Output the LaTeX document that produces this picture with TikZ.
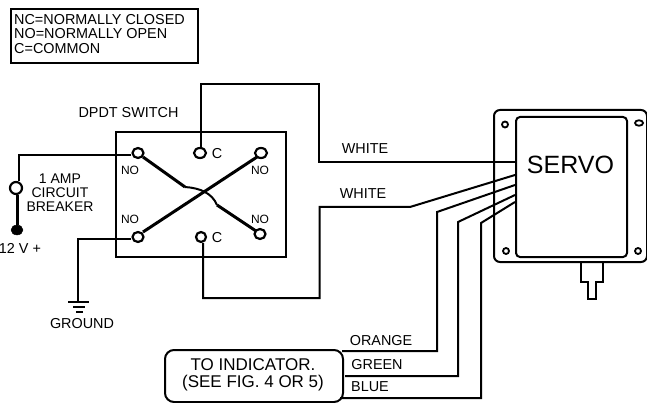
\documentclass[tikz,border=0pt]{standalone}
\usepackage{fontspec}
\setmainfont{Liberation Sans}
\usetikzlibrary{shapes.geometric,calc}
\tikzset{
 wire/.style={line width=2pt,line join=miter},
 heavy/.style={line width=3pt},
 box/.style={draw,line width=2pt,rectangle,inner sep=0pt,anchor=north west},
 rbox/.style={box,rounded corners=4pt},
 term/.style={draw,ellipse,line width=2.2pt,fill=white,inner sep=0pt,minimum width=11pt,minimum height=10pt},
 hole/.style={draw,circle,line width=1.8pt,fill=white,inner sep=0pt,minimum size=6pt},
 lbl/.style={font=\fontsize{14.4}{14.6}\selectfont,inner sep=0pt,align=center},
 small/.style={font=\fontsize{12}{13}\selectfont,inner sep=0pt},
}
\begin{document}
\begin{tikzpicture}[x=1pt,y=-1pt]
\useasboundingbox (0,0) rectangle (647,403);
% legend
\node[box,minimum width=187pt,minimum height=54pt] (legend) at (9.5,8.5) {};
\node[lbl,align=left,anchor=west] (legendtext) at (14,34) {NC=NORMALLY CLOSED\\NO=NORMALLY OPEN\\C=COMMON};
% switch
\node[box,minimum width=170pt,minimum height=125pt] (sw) at (115,131) {};
\node[lbl] (swlabel) at (128.5,113) {DPDT SWITCH};
% servo
\node[rbox,rounded corners=6pt,minimum width=153pt,minimum height=152pt] (outer) at (493,109) {};
\node[rbox,minimum width=111pt,minimum height=140pt] (inner) at (515,116) {};
\node[lbl,font=\fontsize{25}{28}\selectfont] (servo) at (570.5,165) {SERVO};
\node[hole] (h1) at (505,124.5) {};
\node[hole,ellipse,minimum width=8pt,minimum height=5.5pt] (h2) at (639,123) {};
\node[hole] (h3) at (506,251) {};
\node[hole] (h4) at (638,251) {};
\draw[wire] (581,261) |- (588,282) |- (596,299) |- (603,282) -- (603,261);
% indicator
\node[box,rounded corners=9pt,minimum width=178pt,minimum height=52pt] (ind) at (164,349) {};
\node[lbl,font=\fontsize{17}{17.5}\selectfont] (indtext) at (253,375) {TO INDICATOR.\\(SEE FIG. 4 OR 5)};
% terminals
\node[term] (tl) at (138,153) {};
\node[term,minimum width=12pt] (tc) at (200,153) {};
\node[term,minimum width=12pt] (tr) at (261,153) {};
\node[term] (bl) at (138,237) {};
\node[term,minimum width=10pt] (bc) at (201,237) {};
\node[term] (br) at (260,234) {};
% breaker
\node[term,minimum width=12pt,minimum height=12pt] (cb) at (16,188) {};
\node[draw,ellipse,fill=black,inner sep=0pt,minimum width=12pt,minimum height=10pt] (dot) at (17,230) {};
\coordinate (wl) at (19,155);
\coordinate (wg) at (78,239);
\coordinate (gnd) at (78,302);
% connectors
\draw[wire] (tl.west |- wl) -- (wl) -- (wl |- cb.north);
\draw[heavy] (cb.south -| dot) -- (dot);
\draw[wire] (bl.west |- wg) -- (wg) -- (gnd);
\draw[line width=2.2pt] (68,302) -- (89,302) (73,307) -- (85,307) (76,312) -- (83,312);
\coordinate (topA) at (201,84);
\coordinate (topB) at (319,84);
\coordinate (topC) at (319,162);
\coordinate (topD) at (515,162);
\coordinate (botA) at (203,298);
\coordinate (botB) at (319.5,298);
\coordinate (botC) at (319.5,207);
\coordinate (botD) at (410,207);
\coordinate (botE) at (515,175);
\coordinate (o1) at (437,212);
\coordinate (o2) at (515,185);
\coordinate (g1) at (458,222);
\coordinate (g2) at (515,195);
\coordinate (b1) at (481,223);
\coordinate (b2) at (515,202);
\coordinate (oEnd) at (342,351);
\coordinate (gEnd) at (345,376);
\coordinate (bEnd) at (340,398);
\draw[wire] (topD) -- (topC) -- (topB) -- (topA) -- (tc.north -| topA);
\draw[wire] (botA |- bc.south) -- (botA) -- (botB) -- (botC) -- (botD) -- (botE);
\draw[wire] (oEnd) -| (o1) -- (o2);
\draw[wire] (gEnd) -| (g1) -- (g2);
\draw[wire] (bEnd) -| (b1) -- (b2);
% switch arms
\draw[heavy] ($(bl)+(5,-5)$) -- ($(tr)+(-4,4)$);
\draw[heavy] ($(tl)+(5,4)$) -- (185,187);
\draw[line width=2pt] (185,187) .. controls (200,188) and (212,193) .. (217,205);
\draw[heavy] (217,205) -- ($(br)+(-4,-3)$);
% labels
\node[small] (no1) at (130,170) {NO};
\node[small] (no2) at (260,170) {NO};
\node[small] (no3) at (130,219) {NO};
\node[small] (no4) at (260,219) {NO};
\node[lbl] (c1) at (217,154) {C};
\node[lbl] (c2) at (217,238) {C};
\node[lbl,font=\fontsize{14}{14}\selectfont] (cblabel) at (60,193) {1 AMP\\CIRCUIT\\BREAKER};
\node[lbl] (v12) at (20,248) {12 V +};
\node[lbl] (gndl) at (82,324) {GROUND};
\node[lbl] (w1) at (365,149) {WHITE};
\node[lbl] (w2) at (363,194) {WHITE};
\node[lbl] (orange) at (381,341) {ORANGE};
\node[lbl] (green) at (377,365) {GREEN};
\node[lbl] (blue) at (370,387) {BLUE};
\end{tikzpicture}
\end{document}
